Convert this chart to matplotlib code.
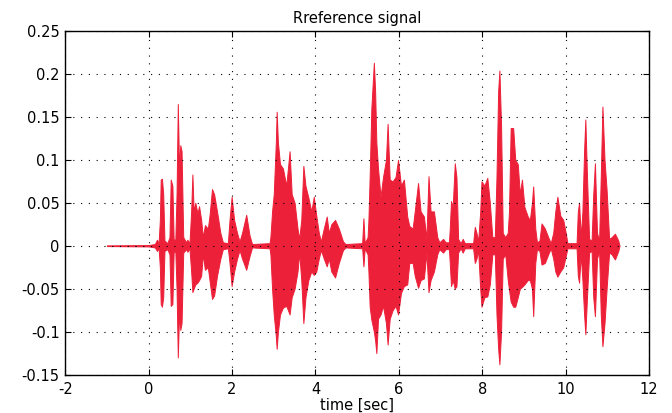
#!/usr/bin/env python3
#
# Plot the reference speech signal (amplitude envelope over time)
#

import matplotlib
matplotlib.use('Agg')
import matplotlib.pyplot as plt
import numpy as np

# Time instants [sec] and the upper / lower envelope of the signal there
t = [
  -1.00, 0.00, 0.15, 0.20, 0.24, 0.27, 0.29, 0.32, 0.35, 0.38,
  0.45, 0.50, 0.53, 0.57, 0.60, 0.64, 0.67, 0.70, 0.73, 0.76,
  0.79, 0.83, 0.90, 0.93, 0.98, 1.02, 1.05, 1.08, 1.12, 1.17,
  1.21, 1.26, 1.30, 1.35, 1.42, 1.46, 1.52, 1.57, 1.64, 1.72,
  1.78, 1.90, 1.94, 1.99, 2.05, 2.12, 2.18, 2.24, 2.34, 2.42,
  2.48, 2.90, 2.92, 2.96, 3.00, 3.05, 3.07, 3.10, 3.15, 3.22,
  3.30, 3.38, 3.43, 3.50, 3.57, 3.61, 3.66, 3.71, 3.76, 3.83,
  3.90, 3.96, 4.02, 4.08, 4.13, 4.20, 4.27, 4.32, 4.38, 4.47,
  4.56, 4.66, 4.72, 5.12, 5.15, 5.18, 5.25, 5.27, 5.30, 5.34,
  5.40, 5.43, 5.46, 5.50, 5.56, 5.62, 5.69, 5.73, 5.78, 5.85,
  5.92, 5.98, 6.05, 6.12, 6.20, 6.25, 6.33, 6.38, 6.46, 6.52,
  6.60, 6.66, 6.71, 6.76, 6.84, 6.92, 6.97, 7.06, 7.12, 7.20,
  7.22, 7.25, 7.29, 7.34, 7.38, 7.42, 7.48, 7.53, 7.58, 7.78,
  7.82, 7.86, 7.90, 7.95, 7.98, 8.05, 8.12, 8.18, 8.24, 8.30,
  8.34, 8.38, 8.41, 8.45, 8.49, 8.55, 8.61, 8.64, 8.68, 8.74,
  8.79, 8.85, 8.90, 8.95, 9.01, 9.09, 9.14, 9.19, 9.22, 9.27,
  9.31, 9.37, 9.42, 9.50, 9.58, 9.64, 9.70, 9.75, 9.80, 9.87,
  9.94, 10.00, 10.04, 10.26, 10.29, 10.32, 10.36, 10.40, 10.44, 10.47,
  10.51, 10.56, 10.62, 10.66, 10.70, 10.75, 10.80, 10.84, 10.88, 10.93,
  10.98, 11.04, 11.10, 11.18, 11.26, 11.29,
]
upper = [
  0.0004, 0.0008, 0.002, 0.007, 0.003, 0.030, 0.077, 0.078, 0.060, 0.006,
  0.003, 0.010, 0.077, 0.070, 0.008, 0.006, 0.060, 0.165, 0.090, 0.117,
  0.110, 0.010, 0.004, 0.007, 0.003, 0.040, 0.083, 0.040, 0.050, 0.038,
  0.046, 0.030, 0.010, 0.024, 0.020, 0.035, 0.066, 0.060, 0.040, 0.015,
  0.004, 0.003, 0.030, 0.057, 0.030, 0.015, 0.005, 0.015, 0.036, 0.012,
  0.002, 0.003, 0.010, 0.040, 0.060, 0.120, 0.156, 0.120, 0.095, 0.090,
  0.070, 0.110, 0.060, 0.050, 0.020, 0.008, 0.030, 0.093, 0.070, 0.056,
  0.040, 0.057, 0.035, 0.015, 0.005, 0.020, 0.034, 0.015, 0.025, 0.030,
  0.020, 0.005, 0.002, 0.003, 0.032, 0.003, 0.010, 0.030, 0.081, 0.160,
  0.213, 0.181, 0.120, 0.090, 0.057, 0.080, 0.100, 0.142, 0.077, 0.075,
  0.080, 0.100, 0.070, 0.077, 0.034, 0.023, 0.020, 0.040, 0.073, 0.040,
  0.034, 0.008, 0.081, 0.040, 0.040, 0.010, 0.004, 0.008, 0.004, 0.004,
  0.020, 0.052, 0.045, 0.096, 0.080, 0.008, 0.003, 0.008, 0.003, 0.003,
  0.022, 0.015, 0.005, 0.040, 0.075, 0.070, 0.079, 0.050, 0.010, 0.010,
  0.080, 0.180, 0.204, 0.140, 0.015, 0.010, 0.015, 0.040, 0.137, 0.137,
  0.100, 0.095, 0.060, 0.077, 0.045, 0.034, 0.030, 0.050, 0.069, 0.020,
  0.004, 0.006, 0.026, 0.020, 0.010, 0.003, 0.015, 0.040, 0.057, 0.035,
  0.030, 0.015, 0.003, 0.003, 0.040, 0.050, 0.010, 0.040, 0.110, 0.147,
  0.080, 0.008, 0.006, 0.060, 0.096, 0.015, 0.006, 0.080, 0.162, 0.100,
  0.065, 0.008, 0.010, 0.014, 0.006, 0.000,
]
lower = [
  -0.0004, -0.0008, -0.002, -0.006, -0.003, -0.025, -0.068, -0.071, -0.060, -0.006,
  -0.004, -0.010, -0.070, -0.068, -0.008, -0.006, -0.050, -0.130, -0.080, -0.098,
  -0.090, -0.008, -0.004, -0.007, -0.003, -0.030, -0.054, -0.050, -0.045, -0.043,
  -0.040, -0.035, -0.010, -0.028, -0.025, -0.040, -0.062, -0.058, -0.035, -0.015,
  -0.004, -0.003, -0.020, -0.047, -0.030, -0.015, -0.005, -0.015, -0.028, -0.012,
  -0.002, -0.003, -0.010, -0.050, -0.080, -0.105, -0.120, -0.100, -0.080, -0.072,
  -0.070, -0.080, -0.060, -0.050, -0.030, -0.008, -0.040, -0.090, -0.060, -0.040,
  -0.030, -0.034, -0.030, -0.015, -0.005, -0.015, -0.024, -0.015, -0.030, -0.037,
  -0.020, -0.005, -0.002, -0.003, -0.024, -0.003, -0.010, -0.030, -0.071, -0.086,
  -0.100, -0.110, -0.125, -0.085, -0.080, -0.070, -0.090, -0.115, -0.085, -0.075,
  -0.070, -0.080, -0.055, -0.047, -0.045, -0.020, -0.020, -0.035, -0.049, -0.040,
  -0.038, -0.008, -0.054, -0.040, -0.030, -0.010, -0.004, -0.008, -0.004, -0.004,
  -0.020, -0.047, -0.040, -0.050, -0.047, -0.008, -0.003, -0.008, -0.003, -0.003,
  -0.020, -0.015, -0.005, -0.050, -0.071, -0.060, -0.059, -0.045, -0.010, -0.010,
  -0.080, -0.120, -0.138, -0.100, -0.015, -0.010, -0.040, -0.051, -0.065, -0.071,
  -0.071, -0.060, -0.050, -0.048, -0.045, -0.040, -0.040, -0.050, -0.082, -0.020,
  -0.004, -0.006, -0.022, -0.020, -0.010, -0.003, -0.015, -0.030, -0.036, -0.030,
  -0.025, -0.012, -0.003, -0.003, -0.035, -0.043, -0.010, -0.040, -0.080, -0.103,
  -0.060, -0.008, -0.006, -0.060, -0.082, -0.015, -0.006, -0.080, -0.117, -0.090,
  -0.050, -0.008, -0.010, -0.016, -0.006, 0.000,
]

x_ticks = [-2, 0, 2, 4, 6, 8, 10, 12]
y_ticks = [-0.15, -0.1, -0.05, 0, 0.05, 0.1, 0.15, 0.2, 0.25]

SIG_COLOR = '#ED2039'
FONT_SIZE = 10.5

def main():
  plt.rcParams['font.family'] = ['DejaVu Sans']
  plt.rcParams['font.size'] = FONT_SIZE

  fig = plt.figure(figsize=(6.72, 4.13), dpi=100)
  ax = fig.add_axes([0.097, 0.093, 0.869, 0.832])

  ax.fill_between(t, lower, upper, color=SIG_COLOR, linewidth=0.7,
                  edgecolor=SIG_COLOR)

  ax.set_xlim(-2, 12)
  ax.set_ylim(-0.15, 0.25)
  ax.set_xticks(x_ticks)
  ax.set_yticks(y_ticks)
  ax.set_xticklabels([str(v) for v in x_ticks])
  ax.set_yticklabels(['%g' % v for v in y_ticks])

  ax.grid(True, color='black', linestyle=(0, (1, 6)), linewidth=0.8)
  ax.tick_params(direction='in', top=True, right=True, length=4,
                 width=0.8, colors='black', labelsize=FONT_SIZE)
  ax.tick_params(axis='y', pad=4)
  ax.tick_params(axis='x', pad=5)
  for sp in ax.spines.values():
    sp.set_linewidth(1.0)
    sp.set_color('black')

  ax.set_title('Rreference signal', fontsize=FONT_SIZE, pad=6)
  ax.set_xlabel('time [sec]', fontsize=FONT_SIZE, labelpad=1)

  fig.savefig('out.png', dpi=100)
  plt.close(fig)

if __name__ == '__main__':
  main()
